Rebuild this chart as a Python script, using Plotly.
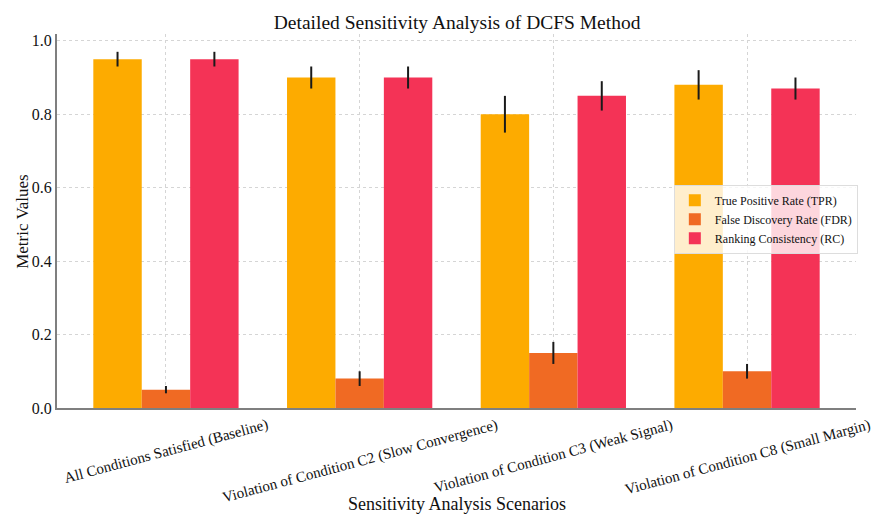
import plotly.graph_objects as go

categories = [
    "All Conditions Satisfied (Baseline)",
    "Violation of Condition C2 (Slow Convergence)",
    "Violation of Condition C3 (Weak Signal)",
    "Violation of Condition C8 (Small Margin)",
]
tpr = [0.95, 0.90, 0.80, 0.88]
tpr_err = [0.02, 0.03, 0.05, 0.04]
fdr = [0.05, 0.08, 0.15, 0.10]
fdr_err = [0.01, 0.02, 0.03, 0.02]
rc = [0.95, 0.90, 0.85, 0.87]
rc_err = [0.02, 0.03, 0.04, 0.03]
y_ticks = [0.0, 0.2, 0.4, 0.6, 0.8, 1.0]

FONT = "Liberation Serif, Times New Roman, serif"
TXT = "#111111"

fig = go.Figure()
series = [
    ("True Positive Rate (TPR)", tpr, tpr_err, "#FDAB00"),
    ("False Discovery Rate (FDR)", fdr, fdr_err, "#F06A23"),
    ("Ranking Consistency (RC)", rc, rc_err, "#F43356"),
]
for name, vals, errs, color in series:
    fig.add_trace(go.Bar(
        x=categories, y=vals, name=name,
        marker=dict(color=color, line=dict(width=0)),
        error_y=dict(type="data", array=errs, color="#1a1a1a", thickness=2, width=0),
    ))

for i, c in enumerate(categories):
    fig.add_annotation(
        x=i, xref="x", y=-0.015, yref="paper",
        text=c, textangle=-15, showarrow=False,
        xanchor="center", yanchor="top",
        font=dict(family=FONT, size=15, color=TXT),
    )

# axis titles
fig.add_annotation(
    x=0.5, xref="paper", y=-0.258, yref="paper",
    text="Sensitivity Analysis Scenarios", showarrow=False,
    xanchor="center", yanchor="middle",
    font=dict(family=FONT, size=18, color=TXT),
)
fig.add_annotation(
    x=-0.044, xref="paper", y=0.5, yref="paper",
    text="Metric Values", textangle=-90, showarrow=False,
    xanchor="center", yanchor="middle",
    font=dict(family=FONT, size=17, color=TXT),
)

fig.update_layout(
    width=874, height=516,
    margin=dict(l=57, r=18, t=34, b=108),
    paper_bgcolor="white", plot_bgcolor="white",
    barmode="group", bargap=0.25, bargroupgap=0,
    font=dict(family=FONT, size=13, color=TXT),
    title=dict(text="Detailed Sensitivity Analysis of DCFS Method",
               x=0.523, xanchor="center", y=0.957, yanchor="middle",
               font=dict(family=FONT, size=19.5, color=TXT)),
    legend=dict(x=0.772, y=0.505, xanchor="left", yanchor="middle",
                bgcolor="rgba(255,255,255,0.8)", bordercolor="#dddddd", borderwidth=1,
                font=dict(family=FONT, size=12, color=TXT),
                itemsizing="constant", tracegroupgap=0),
    xaxis=dict(
        range=[-0.5625, 3.5625], showticklabels=False, ticks="", automargin=False,
        showgrid=True, gridcolor="#d5d5d5", griddash="dot", gridwidth=1,
        showline=True, linecolor="#7f7f7f", linewidth=2,
    ),
    yaxis=dict(
        range=[0, 1.0185], tickvals=y_ticks, ticktext=[f"{v:.1f}" for v in y_ticks],
        automargin=False,
        showgrid=True, gridcolor="#d5d5d5", griddash="dot", gridwidth=1,
        showline=True, linecolor="#7f7f7f", linewidth=2, zeroline=False,
        ticks="", tickfont=dict(family=FONT, size=16, color=TXT),
    ),
)
fig.write_html("out.html", config={"displayModeBar": False},
               post_script="document.body.style.margin='0';")
